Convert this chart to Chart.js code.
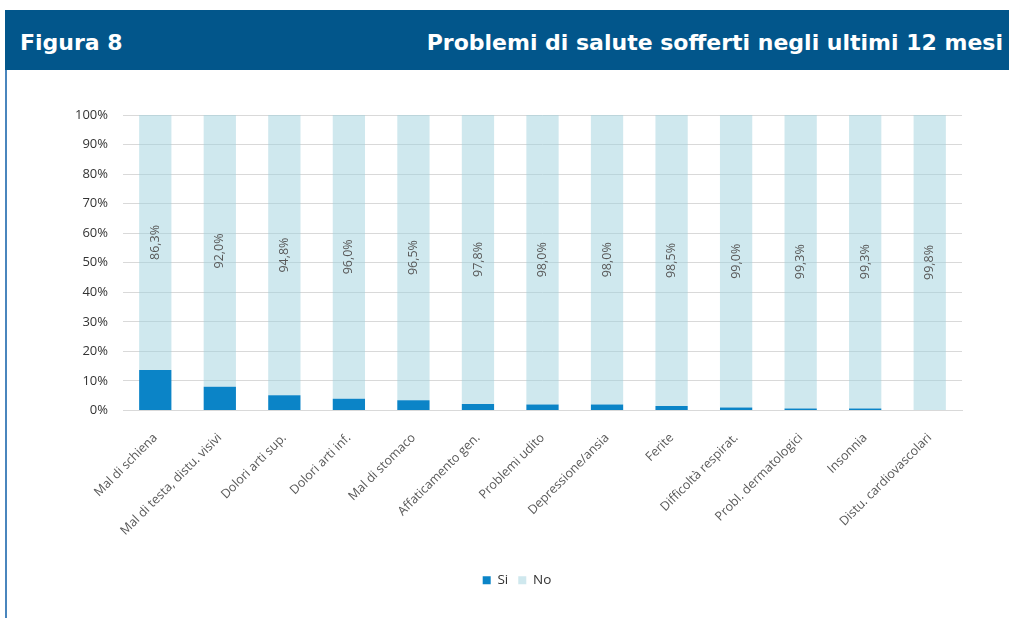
<!DOCTYPE html>
<html>
<head>
<meta charset="utf-8">
<script src="https://cdn.jsdelivr.net/npm/chart.js@4.4.1/dist/chart.umd.min.js"></script>
<style>
  html, body { margin: 0; padding: 0; background: #fff; }
  body { width: 1009px; height: 618px; position: relative; overflow: hidden; }
  #header {
    position: absolute; left: 5px; top: 10px; width: 1004px; height: 60px;
    background: #02568b; color: #fff;
    font-family: "DejaVu Sans", sans-serif; font-weight: bold; font-size: 22px; line-height: 22px;
  }
  #fig { position: absolute; left: 15px; top: 22px; }
  #title { position: absolute; right: 6px; top: 22px; }
  #leftline { position: absolute; left: 5px; top: 70px; width: 2px; height: 548px; background: #4a86bd; }
  #wrap { position: absolute; left: 0; top: 70px; width: 1009px; height: 548px; }
</style>
</head>
<body>
<div id="header"><span id="fig">Figura 8</span><span id="title">Problemi di salute sofferti negli ultimi 12 mesi</span></div>
<div id="leftline"></div>
<div id="wrap"><canvas id="chart"></canvas></div>
<script>
const categories = [
  "Mal di schiena",
  "Mal di testa, distu. visivi",
  "Dolori arti sup.",
  "Dolori arti inf.",
  "Mal di stomaco",
  "Affaticamento gen.",
  "Problemi udito",
  "Depressione/ansia",
  "Ferite",
  "Difficoltà respirat.",
  "Probl. dermatologici",
  "Insonnia",
  "Distu. cardiovascolari"
];
const siValues = [13.7, 8.0, 5.2, 4.0, 3.5, 2.2, 2.0, 2.0, 1.5, 1.0, 0.7, 0.7, 0.2];
const noValues = [86.3, 92.0, 94.8, 96.0, 96.5, 97.8, 98.0, 98.0, 98.5, 99.0, 99.3, 99.3, 99.8];
const seriesNames = ["Si", "No"];

const font = '"Open Sans", "DejaVu Sans", sans-serif';

// labels written vertically in the middle of the "No" part
const noLabels = {
  id: "noLabels",
  afterDatasetsDraw(chart) {
    const ctx = chart.ctx;
    const meta = chart.getDatasetMeta(1);
    ctx.save();
    ctx.font = "12.5px " + font;
    ctx.fillStyle = "#595959";
    ctx.textAlign = "center";
    ctx.textBaseline = "middle";
    meta.data.forEach((bar, i) => {
      const p = bar.getProps(["x", "y", "base"], true);
      ctx.save();
      ctx.translate(p.x, (p.y + p.base) / 2);
      ctx.rotate(-Math.PI / 2);
      ctx.fillText(noValues[i].toFixed(1).replace(".", ",") + "%", 0, 0);
      ctx.restore();
    });
    ctx.restore();
  }
};

new Chart(document.getElementById("chart"), {
  type: "bar",
  plugins: [noLabels],
  data: {
    labels: categories,
    datasets: [
      { label: seriesNames[0], data: siValues, backgroundColor: "#0b84c7", borderWidth: 0 },
      { label: seriesNames[1], data: noValues, backgroundColor: "rgba(160, 210, 222, 0.5)", borderWidth: 0 }
    ]
  },
  options: {
    responsive: true,
    maintainAspectRatio: false,
    animation: false,
    datasets: { bar: { categoryPercentage: 1, barPercentage: 0.5 } },
    layout: { padding: { left: 72, right: 47, top: 45, bottom: 21 } },
    plugins: {
      tooltip: { enabled: false },
      legend: {
        position: "bottom",
        labels: { boxWidth: 8, boxHeight: 8, padding: 10, color: "#333333", font: { family: font, size: 13.5 } }
      }
    },
    scales: {
      x: {
        stacked: true,
        grid: { display: false },
        border: { color: "#d9d9d9" },
        ticks: { minRotation: 45, maxRotation: 45, color: "#595959", font: { family: font, size: 12.5 }, padding: 12 },
        afterFit: (s) => { s.height = 153; }
      },
      y: {
        stacked: true,
        min: 0,
        max: 100,
        grid: { color: "#d9d9d9", drawTicks: false },
        border: { display: false },
        ticks: { stepSize: 10, padding: 15, color: "#333333", font: { family: font, size: 13 }, callback: (v) => v + "%" },
        afterFit: (s) => { s.width = 51; }
      }
    }
  }
});
</script>
</body>
</html>
